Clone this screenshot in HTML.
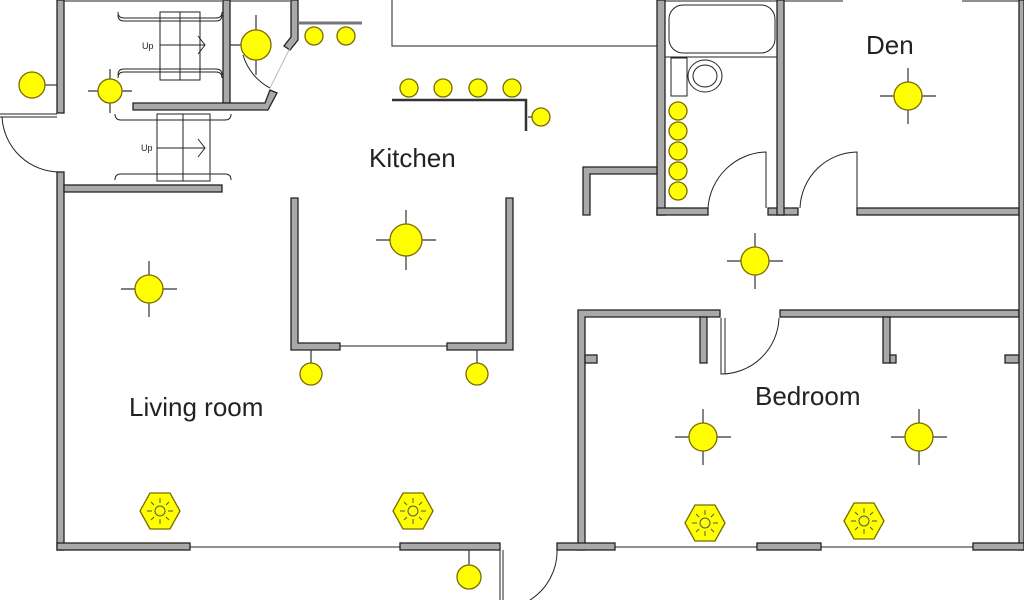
<!DOCTYPE html>
<html><head><meta charset="utf-8"><style>
html,body{margin:0;padding:0;background:#fff;width:1024px;height:600px;overflow:hidden}
svg{display:block}
.w{fill:#a9a9a9;stroke:#222;stroke-width:1.3}
.l{fill:yellow;stroke:#7a6a00;stroke-width:1.3}
.x{stroke:#333;stroke-width:1.2}
.t{font-family:"Liberation Sans",sans-serif;font-size:26px;fill:#222}
.th{fill:none;stroke:#222;stroke-width:1}
</style></head><body>
<svg width="1024" height="600" viewBox="0 0 1024 600">
<line x1="64" y1="1" x2="222" y2="1" class="th" stroke-width="2"/>
<line x1="230" y1="1" x2="290" y2="1" class="th" stroke-width="2"/>
<line x1="665" y1="1" x2="777" y2="1" class="th" stroke-width="2"/>
<line x1="784" y1="1" x2="843" y2="1" class="th" stroke-width="2"/>
<line x1="962" y1="1" x2="1019" y2="1" class="th" stroke-width="2"/>
<rect class="w" x="57" y="0" width="7" height="113"/>
<rect class="w" x="57" y="172" width="7" height="378"/>
<line x1="0" y1="114" x2="57" y2="114" class="th"/><line x1="0" y1="117" x2="57" y2="117" class="th"/>
<path d="M2 117 A58 58 0 0 0 60 172" class="th"/>
<rect class="w" x="223" y="0" width="7" height="103"/>
<path class="w" d="M133 103 L265 103 L270 90 L277 93 L268 110 L133 110 Z"/>
<path class="w" d="M291 0 L298 0 L298 40 L290 50 L284 46 L291 37 Z"/>
<path d="M243 55 A55 55 0 0 0 270 88" class="th"/>
<line x1="290" y1="48" x2="270" y2="88" stroke="#bbb"/>
<rect class="w" x="64" y="185" width="158" height="7"/>
<g class="th">
<rect x="160" y="12" width="40" height="68"/><line x1="180" y1="12" x2="180" y2="80"/>
<line x1="160" y1="45" x2="205" y2="45"/><path d="M198 36 L205 45 L198 54"/>
<path d="M118 12 q0 6 6 6 h92 q6 0 6 -6"/><path d="M118 15 q0 6 6 6 h92 q6 0 6 -6" />
<path d="M118 78 q0 -6 6 -6 h92 q6 0 6 6"/><path d="M118 75 q0 -6 6 -6 h92 q6 0 6 6" />
<rect x="157" y="114" width="53" height="67"/><line x1="183" y1="114" x2="183" y2="181"/>
<line x1="157" y1="148" x2="205" y2="148"/><path d="M198 139 L205 148 L198 157"/>
<path d="M115 114 q0 6 6 6 h104 q6 0 6 -6"/><path d="M115 180 q0 -6 6 -6 h104 q6 0 6 6"/>
</g>
<text x="142" y="49" font-family="Liberation Sans,sans-serif" font-size="9" fill="#222">Up</text>
<text x="141" y="151" font-family="Liberation Sans,sans-serif" font-size="9" fill="#222">Up</text>
<path d="M392 0 L392 46 L657 46" class="th"/>
<path d="M392 100 L526 100 L526 131" stroke="#333" stroke-width="2.5" fill="none"/>
<line x1="298" y1="23" x2="362" y2="23" stroke="#777" stroke-width="3"/>
<path class="w" d="M291 198 h7 v145 h42 v7 h-49 Z"/>
<path class="w" d="M506 198 h7 v152 h-66 v-7 h59 Z"/>
<line x1="340" y1="346" x2="447" y2="346" class="th"/>
<rect class="w" x="657" y="0" width="8" height="215"/>
<rect class="w" x="657" y="208" width="51" height="7"/>
<rect class="w" x="768" y="208" width="30" height="7"/>
<rect class="w" x="777" y="0" width="7" height="215"/>
<rect class="w" x="857" y="208" width="162" height="7"/>
<path class="w" d="M583 167 h74 v7 h-67 v41 h-7 Z"/>
<rect x="669" y="5" width="106" height="48" rx="14" class="th" stroke="#555"/>
<line x1="665" y1="57" x2="777" y2="57" class="th" stroke="#555"/>
<rect x="671" y="58" width="16" height="38" class="th" stroke-width="1.5"/>
<ellipse cx="705" cy="76" rx="17" ry="16" class="th" stroke="#555"/>
<ellipse cx="705" cy="76" rx="12" ry="11" class="th" stroke="#555"/>
<path d="M708 208 A60 60 0 0 1 766 152 L766 208" class="th" stroke="#555"/>
<path d="M800 208 A58 58 0 0 1 857 152 L857 208" class="th" stroke="#555"/>
<path class="w" d="M578 310 h142 v7 h-135 v233 h-7 Z"/>
<rect class="w" x="780" y="310" width="239" height="7"/>
<rect class="w" x="700" y="317" width="7" height="46"/>
<rect class="w" x="883" y="317" width="7" height="46"/><rect class="w" x="890" y="355" width="6" height="8"/>
<rect class="w" x="585" y="355" width="12" height="8"/><rect class="w" x="1005" y="355" width="14" height="8"/>
<path d="M721 318 L721 374 A58 58 0 0 0 779 318" class="th" stroke="#555"/><line x1="725" y1="318" x2="725" y2="374" class="th"/>
<rect class="w" x="1019" y="0" width="5" height="550"/>
<rect class="w" x="57" y="543" width="133" height="7"/>
<line x1="190" y1="547" x2="400" y2="547" class="th"/>
<rect class="w" x="400" y="543" width="100" height="7"/>
<line x1="500" y1="550" x2="500" y2="600" class="th"/><line x1="503" y1="550" x2="503" y2="600" class="th"/>
<path d="M557 548 A58 58 0 0 1 530 600" class="th" stroke="#555"/>
<rect class="w" x="557" y="543" width="58" height="7"/>
<line x1="615" y1="547" x2="757" y2="547" class="th"/>
<rect class="w" x="757" y="543" width="64" height="7"/>
<line x1="821" y1="547" x2="973" y2="547" class="th"/>
<rect class="w" x="973" y="543" width="51" height="7"/>
<g class="x">
<line x1="45" y1="85" x2="57" y2="85"/>
<line x1="88" y1="91" x2="132" y2="91"/><line x1="110" y1="69" x2="110" y2="113"/>
<line x1="230" y1="45" x2="256" y2="45"/><line x1="256" y1="15" x2="256" y2="75"/>
<line x1="376" y1="240" x2="436" y2="240"/><line x1="406" y1="210" x2="406" y2="270"/>
<line x1="121" y1="289" x2="177" y2="289"/><line x1="149" y1="261" x2="149" y2="317"/>
<line x1="727" y1="261" x2="783" y2="261"/><line x1="755" y1="233" x2="755" y2="289"/>
<line x1="880" y1="96" x2="936" y2="96"/><line x1="908" y1="68" x2="908" y2="124"/>
<line x1="675" y1="437" x2="731" y2="437"/><line x1="703" y1="409" x2="703" y2="465"/>
<line x1="891" y1="437" x2="947" y2="437"/><line x1="919" y1="409" x2="919" y2="465"/>
<line x1="311" y1="350" x2="311" y2="364"/><line x1="477" y1="350" x2="477" y2="364"/>
<line x1="469" y1="550" x2="469" y2="565"/>
<line x1="528" y1="117" x2="532" y2="117"/>
</g>
<g class="l">
<circle cx="32" cy="85" r="13"/><circle cx="110" cy="91" r="12"/><circle cx="256" cy="45" r="15"/>
<circle cx="314" cy="36" r="9"/><circle cx="346" cy="36" r="9"/>
<circle cx="409" cy="88" r="9"/><circle cx="443" cy="88" r="9"/><circle cx="478" cy="88" r="9"/><circle cx="512" cy="88" r="9"/>
<circle cx="541" cy="117" r="9"/>
<ellipse cx="406" cy="240" rx="16" ry="16"/><circle cx="149" cy="289" r="14"/><ellipse cx="755" cy="261" rx="14" ry="14"/>
<circle cx="908" cy="96" r="14"/><circle cx="703" cy="437" r="14"/><circle cx="919" cy="437" r="14"/>
<ellipse cx="311" cy="374" rx="11" ry="11"/><ellipse cx="477" cy="374" rx="11" ry="11"/><ellipse cx="469" cy="577" rx="12" ry="12"/>
<circle cx="678" cy="111" r="9"/><circle cx="678" cy="131" r="9"/><circle cx="678" cy="151" r="9"/><circle cx="678" cy="171" r="9"/><circle cx="678" cy="191" r="9"/>
</g>
<g>
<g transform="translate(160,511)"><polygon class="l" points="-20,0 -10,-18 10,-18 20,0 10,18 -10,18"/><circle r="5" fill="none" stroke="#555"/><g stroke="#555"><line x1="0" y1="-8" x2="0" y2="-13"/><line x1="0" y1="8" x2="0" y2="13"/><line x1="-8" y1="0" x2="-13" y2="0"/><line x1="8" y1="0" x2="13" y2="0"/><line x1="6" y1="6" x2="9" y2="9"/><line x1="-6" y1="6" x2="-9" y2="9"/><line x1="6" y1="-6" x2="9" y2="-9"/><line x1="-6" y1="-6" x2="-9" y2="-9"/></g></g>
<g transform="translate(413,511)"><polygon class="l" points="-20,0 -10,-18 10,-18 20,0 10,18 -10,18"/><circle r="5" fill="none" stroke="#555"/><g stroke="#555"><line x1="0" y1="-8" x2="0" y2="-13"/><line x1="0" y1="8" x2="0" y2="13"/><line x1="-8" y1="0" x2="-13" y2="0"/><line x1="8" y1="0" x2="13" y2="0"/><line x1="6" y1="6" x2="9" y2="9"/><line x1="-6" y1="6" x2="-9" y2="9"/><line x1="6" y1="-6" x2="9" y2="-9"/><line x1="-6" y1="-6" x2="-9" y2="-9"/></g></g>
<g transform="translate(705,523)"><polygon class="l" points="-20,0 -10,-18 10,-18 20,0 10,18 -10,18"/><circle r="5" fill="none" stroke="#555"/><g stroke="#555"><line x1="0" y1="-8" x2="0" y2="-13"/><line x1="0" y1="8" x2="0" y2="13"/><line x1="-8" y1="0" x2="-13" y2="0"/><line x1="8" y1="0" x2="13" y2="0"/><line x1="6" y1="6" x2="9" y2="9"/><line x1="-6" y1="6" x2="-9" y2="9"/><line x1="6" y1="-6" x2="9" y2="-9"/><line x1="-6" y1="-6" x2="-9" y2="-9"/></g></g>
<g transform="translate(864,521)"><polygon class="l" points="-20,0 -10,-18 10,-18 20,0 10,18 -10,18"/><circle r="5" fill="none" stroke="#555"/><g stroke="#555"><line x1="0" y1="-8" x2="0" y2="-13"/><line x1="0" y1="8" x2="0" y2="13"/><line x1="-8" y1="0" x2="-13" y2="0"/><line x1="8" y1="0" x2="13" y2="0"/><line x1="6" y1="6" x2="9" y2="9"/><line x1="-6" y1="6" x2="-9" y2="9"/><line x1="6" y1="-6" x2="9" y2="-9"/><line x1="-6" y1="-6" x2="-9" y2="-9"/></g></g>
</g>
<text class="t" x="369" y="167">Kitchen</text>
<text class="t" x="866" y="54">Den</text>
<text class="t" x="129" y="416">Living room</text>
<text class="t" x="755" y="405">Bedroom</text>
</svg>
</body></html>
